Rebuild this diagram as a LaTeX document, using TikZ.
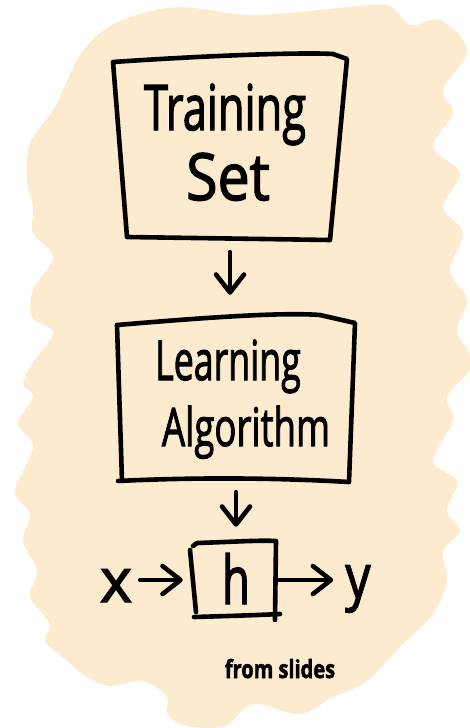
\documentclass[tikz,border=0pt]{standalone}
\usepackage{fontspec}
\setmainfont{Open Sans}
\newfontfamily\handfont[FakeBold=2.2]{Open Sans}
\usetikzlibrary{arrows.meta}
\definecolor{peach}{HTML}{FDEBD0}
\newcommand\narrowtext[2]{\scalebox{#1}[1]{#2}}
\begin{document}
\begin{tikzpicture}[x=1pt,y=-1pt,
  ink/.style={line width=4.6pt, line cap=round, line join=round},
  handarrow/.style={ink, -{Straight Barb[length=18pt,width=28pt,round]}},
  area/.style={inner sep=0pt, draw=none},
  label/.style={inner sep=0pt, anchor=base, text=black, font=\handfont}]
\useasboundingbox (0,0) rectangle (469,728);

% soft cloud behind everything
\fill[peach] plot[smooth cycle, tension=0.55] coordinates {
 (100,33) (130,17) (180,7) (250,15) (320,10) (385,5) (410,25) (440,20)
 (467,50) (443,90) (453,113) (433,147) (460,173) (443,207) (463,233)
 (450,270) (467,300) (457,330) (469,353) (469,371) (447,397) (453,421)
 (433,461) (457,481) (447,511) (460,531) (443,551) (447,581) (433,614)
 (400,647) (367,681) (333,697) (300,714) (253,704) (225,726) (187,726)
 (167,714) (167,697) (143,681) (110,686) (87,677) (67,661) (45,641)
 (50,624) (30,597) (37,571) (23,541) (30,514) (15,491) (33,447)
 (18,424) (33,397) (23,384) (32,364) (53,333) (32,317) (33,290)
 (53,257) (33,233) (33,207) (27,180) (30,143) (55,107) (77,60)};

% box areas
\node[area, minimum width=234pt, minimum height=180pt] (tsbox) at (230,150) {};
\node[area, minimum width=236pt, minimum height=160pt] (labox) at (236,402) {};
\node[area, minimum width=86pt, minimum height=78pt] (hbox) at (235,580) {};

% hand-drawn outlines
\draw[ink] (113,62) .. controls (200,56) and (300,52) .. (333,54) -- (347,59)
  -- (330,240) -- (127,237) -- cycle;
\draw[ink] (117,325) .. controls (200,318) and (280,312) .. (320,315) -- (355,323)
  -- (349,482) .. controls (280,478) and (200,477) .. (118,481);
\draw[ink] (122,481) -- (117,325);
\draw[ink] (193,546) -- (197,543) .. controls (230,542) and (260,540) .. (276,541)
  -- (275,620);
\draw[ink] (194,617) .. controls (230,616) and (260,615) .. (280,614);
\draw[ink] (190,550) -- (196,612);

% labels
\node[label] (train) at (225,130) {\fontsize{63}{63}\selectfont\narrowtext{0.69}{Training}};
\node[label] (set) at (228,200) {\fontsize{65}{65}\selectfont\narrowtext{0.88}{Set}};
\node[label] (learn) at (228,380) {\fontsize{55}{55}\selectfont\narrowtext{0.65}{Learning}};
\node[label] (algo) at (246,446) {\fontsize{53}{53}\selectfont\narrowtext{0.69}{Algorithm}};
\node[label] (hlab) at (236,604) {\fontsize{67}{67}\selectfont\narrowtext{0.68}{h}};
\node[label] (xin) at (116,602) {\fontsize{61}{61}\selectfont x};
\node[label] (yout) at (358,598) {\fontsize{61}{61}\selectfont\narrowtext{0.82}{y}};
\node[label] (src) at (280,678) {\fontsize{25}{25}\selectfont\bfseries\narrowtext{0.8}{from slides}};

% connectors
\draw[handarrow, shorten <=12pt, shorten >=27pt] (tsbox.south) -- (tsbox.south |- labox.north);
\draw[handarrow, shorten <=10pt, shorten >=14pt] (labox.south) -- (labox.south |- hbox.north);
\draw[handarrow, shorten <=8pt, shorten >=9pt] (xin.east |- hbox.west) -- (hbox.west);
\draw[handarrow, shorten >=12pt] (hbox.east) -- (hbox.east -| yout.west);
\end{tikzpicture}
\end{document}
